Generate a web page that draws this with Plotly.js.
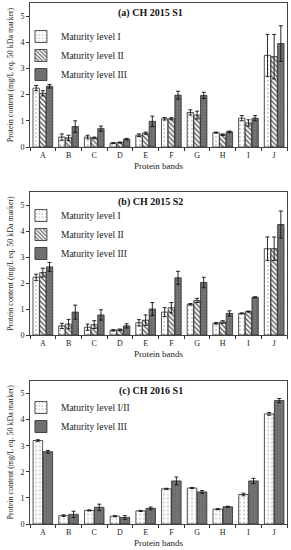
<!DOCTYPE html>
<html><head><meta charset="utf-8">
<script src="https://cdn.plot.ly/plotly-3.0.1.min.js"></script>
<style>html,body{margin:0;padding:0;background:#fff}</style>
</head><body><div id="chart" style="width:291px;height:550px"></div>
<script>
const bands = ['A','B','C','D','E','F','G','H','I','J'];

// (a) CH 2015 S1
const a_I    = [2.25,0.38,0.38,0.15,0.45,1.08,1.32,0.55,1.10,3.50];
const a_I_e  = [0.10,0.12,0.07,0.02,0.05,0.05,0.10,0.02,0.10,0.80];
const a_II   = [2.05,0.35,0.35,0.17,0.53,1.08,1.22,0.47,0.92,3.45];
const a_II_e = [0.10,0.10,0.03,0.02,0.04,0.04,0.15,0.03,0.12,0.85];
const a_III  = [2.32,0.78,0.70,0.30,0.98,1.98,1.97,0.58,1.10,3.95];
const a_III_e= [0.07,0.22,0.10,0.03,0.20,0.15,0.12,0.03,0.10,0.68];

// (b) CH 2015 S2
const b_I    = [2.22,0.35,0.30,0.18,0.47,0.88,1.18,0.45,0.83,3.32];
const b_I_e  = [0.12,0.10,0.12,0.03,0.12,0.17,0.03,0.03,0.02,0.45];
const b_II   = [2.40,0.42,0.40,0.20,0.57,1.05,1.33,0.50,0.90,3.32];
const b_II_e = [0.17,0.18,0.15,0.03,0.20,0.20,0.08,0.05,0.02,0.45];
const b_III  = [2.62,0.88,0.77,0.35,1.00,2.20,2.02,0.83,1.45,4.25];
const b_III_e= [0.17,0.27,0.20,0.08,0.25,0.25,0.20,0.10,0.02,0.52];

// (c) CH 2016 S1
const c_I    = [3.20,0.32,0.52,0.30,0.50,1.35,1.38,0.57,1.13,4.22];
const c_I_e  = [0.03,0.03,0.02,0.02,0.02,0.02,0.02,0.02,0.05,0.05];
const c_III  = [2.77,0.37,0.64,0.25,0.60,1.65,1.23,0.66,1.65,4.73];
const c_III_e= [0.05,0.12,0.12,0.07,0.05,0.15,0.05,0.02,0.10,0.08];

const serif = 'Liberation Serif, Times New Roman, serif';
const line = {color:'#2a2a2a', width:0.8};
const styleI  = {color:'#ffffff', line:line, pattern:{shape:'.', fillmode:'replace', bgcolor:'#ffffff', fgcolor:'#999', size:4, solidity:0.12}};
const styleII = {color:'#ffffff', line:line, pattern:{shape:'\\', fillmode:'replace', bgcolor:'#ffffff', fgcolor:'#555', size:3.5, solidity:0.4}};
const styleIII= {color:'#737373', line:line, pattern:{shape:'+', fillmode:'replace', bgcolor:'#767676', fgcolor:'#5a5a5a', size:3, solidity:0.2}};
const eb = arr => ({type:'data', array:arr, visible:true, color:'#111', thickness:0.9, width:2});

function bar(name, y, e, style, xa, ya, lg){
  return {type:'bar', name:name, x:bands, y:y, error_y:eb(e), marker:style, xaxis:xa, yaxis:ya, legend:lg};
}

const data = [
  bar('Maturity level I',   a_I,   a_I_e,   styleI,  'x','y','legend'),
  bar('Maturity level II',  a_II,  a_II_e,  styleII, 'x','y','legend'),
  bar('Maturity level III', a_III, a_III_e, styleIII,'x','y','legend'),
  bar('Maturity level I',   b_I,   b_I_e,   styleI,  'x2','y2','legend2'),
  bar('Maturity level II',  b_II,  b_II_e,  styleII, 'x2','y2','legend2'),
  bar('Maturity level III', b_III, b_III_e, styleIII,'x2','y2','legend2'),
  bar('Maturity level I/II',c_I,   c_I_e,   styleI,  'x3','y3','legend3'),
  bar('Maturity level III', c_III, c_III_e, styleIII,'x3','y3','legend3')
];

const xdom = [30/291, 287/291];
function xax(anchor){
  return {domain:xdom, anchor:anchor, type:'category', tickson:'boundaries', ticks:'outside', ticklen:3,
    tickcolor:'#333', showline:true, mirror:true, linecolor:'#444', linewidth:1, showgrid:false,
    tickfont:{family:serif, size:8, color:'#222'},
    title:{text:'Protein bands', font:{family:serif, size:9, color:'#222'}, standoff:4}};
}
function yax(anchor, dom){
  return {domain:dom, anchor:anchor, range:[0,5.5], dtick:1, ticks:'outside', ticklen:3, tickcolor:'#333',
    showline:true, mirror:true, linecolor:'#444', linewidth:1, showgrid:false, zeroline:false,
    tickfont:{family:serif, size:8, color:'#222'},
    title:{text:'Protein content (mg/L eq. 50 kDa marker)', font:{family:serif, size:8, color:'#222'}, standoff:5}};
}
function leg(ypx){
  return {x:0.072, y:1-ypx/550, xanchor:'left', yanchor:'top', bgcolor:'rgba(0,0,0,0)',
    font:{family:serif, size:9.5, color:'#222'}, itemwidth:30, tracegroupgap:0, traceorder:'normal'};
}
function ttl(txt, xr, yr){
  return {text:'<b>'+txt+'</b>', xref:xr+' domain', yref:yr+' domain', x:0.47, y:0.93,
    xanchor:'center', yanchor:'middle', showarrow:false, font:{family:serif, size:10, color:'#111'}};
}

const layout = {
  width:291, height:550, margin:{l:0, r:0, t:0, b:0},
  paper_bgcolor:'#fff', plot_bgcolor:'#fff',
  barmode:'group', bargap:0.22, bargroupgap:0.05,
  xaxis:xax('y'), yaxis:yax('x',[1-147/550, 1-3/550]),
  xaxis2:xax('y2'), yaxis2:yax('x2',[1-335/550, 1-192/550]),
  xaxis3:xax('y3'), yaxis3:yax('x3',[1-524/550, 1-380.5/550]),
  legend:leg(22), legend2:leg(201), legend3:leg(393),
  showlegend:true,
  annotations:[ttl('(a) CH 2015 S1','x','y'), ttl('(b) CH 2015 S2','x2','y2'), ttl('(c) CH 2016 S1','x3','y3')]
};

Plotly.newPlot('chart', data, layout, {displayModeBar:false, staticPlot:true});
</script></body></html>
